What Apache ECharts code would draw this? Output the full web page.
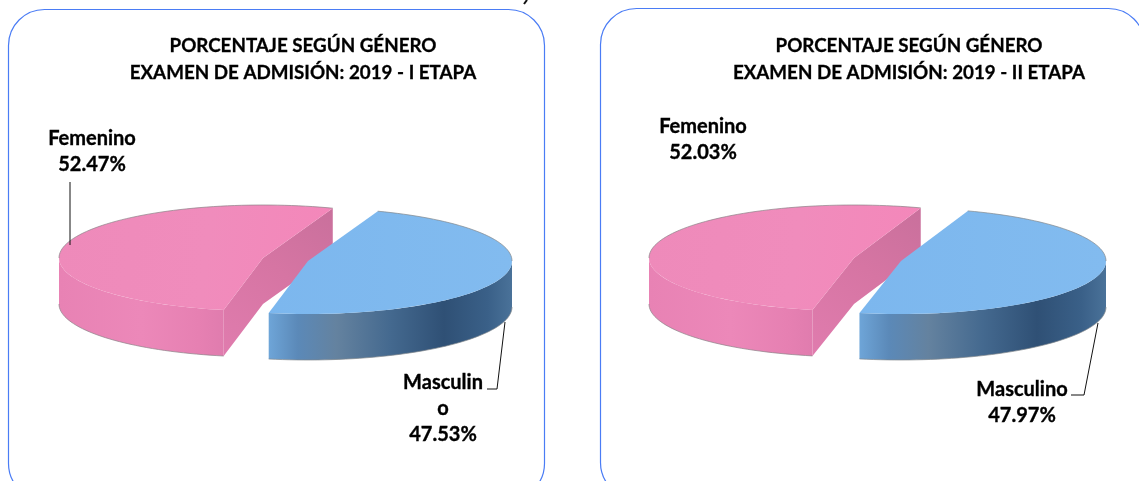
<!DOCTYPE html>
<html>
<head>
<meta charset="utf-8">
<style>html,body{margin:0;padding:0;background:#fff}#c{width:1139px;height:481px}</style>
<script src="https://cdn.jsdelivr.net/npm/echarts@6/dist/echarts.min.js"></script>
</head>
<body>
<div id="c"></div>
<script>
const categories1 = ['Femenino', 'Masculin\no'];
const categories2 = ['Femenino', 'Masculino'];
const etapa1 = [52.47, 47.53];
const etapa2 = [52.03, 47.97];
const titleLine1 = 'PORCENTAJE SEGÚN GÉNERO';
const title1 = 'EXAMEN DE ADMISIÓN: 2019 - I ETAPA';
const title2 = 'EXAMEN DE ADMISIÓN: 2019 - II ETAPA';

const FONT = 'Lato, "Open Sans", sans-serif';
const RAD = Math.PI / 180;
const chart = echarts.init(document.getElementById('c'));
const G = echarts.graphic.LinearGradient;

const pies = [
  { name: 'I', values: etapa1, cats: categories1, start: 70, cx: 263, cy: 258, rx: 204, ry: 53, depth: 46,
    ex: [0, 45], ey: [0, 3],
    labels: [[92, 152], [443, 409]],
    leaders: [[[70, 182], [70, 245]], [[505, 322], [497, 389], [487, 389]]] },
  { name: 'II', values: etapa2, cats: categories2, start: 71, cx: 854, cy: 258, rx: 205, ry: 53, depth: 46,
    ex: [0, 47], ey: [0, 3],
    labels: [[703, 140], [1022, 403]],
    leaders: [[[1098, 323], [1084, 395], [1071, 395]]] }
];

function slicePaint(i) {
  return i === 0 ? {
    top: new G(0, 0, 1, 0.3, [
      { offset: 0, color: '#ee8aba' }, { offset: 0.55, color: '#f08cbc' }, { offset: 1, color: '#f487ba' }]),
    wall: new G(0, 0, 1, 0, [
      { offset: 0, color: '#e882b4' }, { offset: 0.5, color: '#ec88b9' }, { offset: 0.85, color: '#e680b2' }, { offset: 1, color: '#e07cae' }]),
    cut: new G(0, 1, 1, 0, [
      { offset: 0, color: '#e07cae' }, { offset: 0.55, color: '#d675a3' }, { offset: 1, color: '#c9709c' }]),
    line: 'rgba(140,130,135,0.7)'
  } : {
    top: new G(0, 0, 1, 0, [
      { offset: 0, color: '#7cb7ee' }, { offset: 1, color: '#82bbef' }]),
    wall: new G(0, 0, 1, 0, [
      { offset: 0, color: '#6ea5d8' }, { offset: 0.12, color: '#5b89b8' }, { offset: 0.28, color: '#64829f' },
      { offset: 0.5, color: '#44698f' }, { offset: 0.72, color: '#2f5075' }, { offset: 0.9, color: '#3a6088' }, { offset: 1, color: '#4a7299' }]),
    line: 'rgba(130,135,140,0.7)'
  };
}

function makeRender(pie) {
  const total = pie.values.reduce((a, b) => a + b, 0);
  return function (params, api) {
    const i = params.dataIndex;
    const value = api.value(0);
    const before = pie.values.slice(0, i).reduce((a, b) => a + b, 0);
    const a0 = pie.start + before / total * 360;
    const a1 = a0 + value / total * 360;
    const cx = pie.cx + pie.ex[i], cy = pie.cy + pie.ey[i];
    const pt = (deg, d) => [cx + pie.rx * Math.cos(deg * RAD), cy - pie.ry * Math.sin(deg * RAD) + (d || 0)];
    const arc = (from, to, d) => {
      const out = [], n = Math.max(2, Math.ceil(Math.abs(to - from) / 2));
      for (let k = 0; k <= n; k++) out.push(pt(from + (to - from) * k / n, d));
      return out;
    };
    const paint = slicePaint(i);
    const children = [];
    const c0 = [cx, cy], c1 = [cx, cy + pie.depth];
    if (i === 0) {
      children.push({ type: 'polygon', shape: { points: [pt(a0), c0, pt(a1), pt(a1, pie.depth), c1, pt(a0, pie.depth)] }, style: { fill: paint.cut } });
    }
    const w0 = Math.max(a0, 180), w1 = Math.min(a1, 360);
    if (w1 > w0) {
      const front = arc(w0, w1, 0), back = arc(w1, w0, pie.depth);
      children.push({ type: 'polygon', shape: { points: front.concat(back) }, style: { fill: paint.wall } });
      children.push({ type: 'polyline', shape: { points: arc(w0, w1, pie.depth) }, style: { fill: null, stroke: paint.line, lineWidth: 1 } });
    }
    children.push({ type: 'polygon', shape: { points: [c0].concat(arc(a0, a1, 0)) }, style: { fill: paint.top } });
    const r0 = a0, r1 = Math.min(a1, 180);
    if (r1 > r0) children.push({ type: 'polyline', shape: { points: arc(r0, r1, 0) }, style: { fill: null, stroke: paint.line, lineWidth: 1 } });
    if (a1 > 360) children.push({ type: 'polyline', shape: { points: arc(360, a1, 0) }, style: { fill: null, stroke: paint.line, lineWidth: 1 } });
    const lab = pie.labels[i];
    children.push({ type: 'text', x: lab[0], y: lab[1], style: {
      text: pie.cats[i] + '\n' + value.toFixed(2) + '%',
      x: 0, y: 0, align: 'center', verticalAlign: 'middle',
      font: 'bold 20px ' + FONT, lineHeight: 26, fill: '#000', stroke: '#000', lineWidth: 0.35 } });
    return { type: 'group', children };
  };
}

const panel = (x, y, w, h) => ({ type: 'rect', shape: { x, y, width: w, height: h, r: 36 }, style: { fill: '#fff', stroke: '#4a7cf5', lineWidth: 1.2 }, z: -1 });
const leaderGraphics = [];
pies.forEach(p => p.leaders.forEach(l => leaderGraphics.push({ type: 'polyline', shape: { points: l }, style: { fill: null, stroke: '#111', lineWidth: 1 }, z: 20 })));
leaderGraphics.push({ type: 'polyline', shape: { points: [[527, 0], [524, 4]] }, style: { fill: null, stroke: '#111', lineWidth: 2 }, z: 20 });

const titleStyle = { fontFamily: FONT, fontWeight: 'bold', fontSize: 18.8, lineHeight: 27, color: '#000', textBorderColor: '#000', textBorderWidth: 0.3 };
chart.setOption({
  animation: false,
  backgroundColor: '#fff',
  title: [
    { text: titleLine1 + '\n' + title1, left: 298, top: 27, textAlign: 'center', textStyle: titleStyle },
    { text: titleLine1 + '\n' + title2, left: 904, top: 27, textAlign: 'center', textStyle: titleStyle }
  ],
  graphic: [panel(8.5, 9.5, 536, 490), panel(600.5, 8.5, 544, 490)].concat(leaderGraphics),
  series: pies.map(p => ({
    type: 'custom', name: p.name, coordinateSystem: 'none', silent: true,
    renderItem: makeRender(p), data: p.values.map(v => [v]), z: 5
  }))
});
</script>
</body>
</html>
